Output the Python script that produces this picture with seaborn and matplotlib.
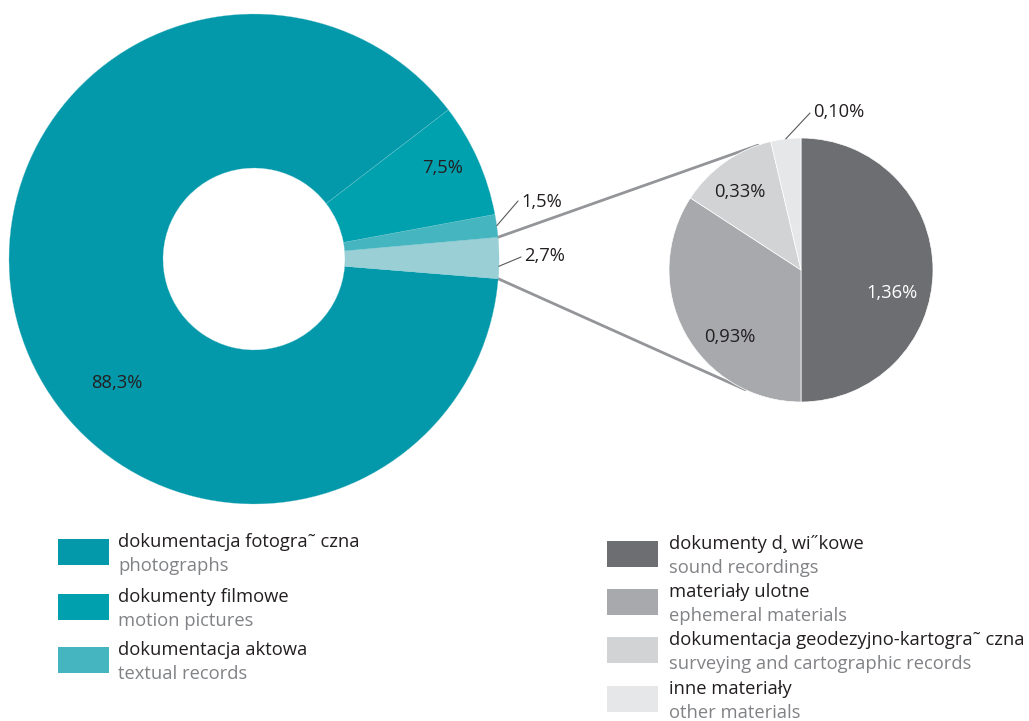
import numpy as np
import seaborn as sns
import matplotlib.pyplot as plt

# donut (main collection), order counter-clockwise from the 88,3% slice
main_labels = ['dokumentacja fotogra˜ czna', 'inne', 'dokumentacja aktowa', 'dokumenty filmowe']
main_values = [88.3, 2.7, 1.5, 7.5]
main_colors = ['#0399AA', '#9ACFD6', '#45B5BF', '#00A1AE']

# breakdown of the 2,7% slice, clockwise from the top
sub_values = [1.36, 0.93, 0.33, 0.10]
sub_text = ['1,36%', '0,93%', '0,33%', '0,10%']
sub_colors = ['#6D6E71', '#A7A9AC', '#D1D3D4', '#E6E7E8']

left_legend = [('dokumentacja fotogra˜ czna', 'photographs', '#0399AA'),
               ('dokumenty filmowe', 'motion pictures', '#00A0AE'),
               ('dokumentacja aktowa', 'textual records', '#45B5BF')]
right_legend = [('dokumenty d¸ wi˝kowe', 'sound recordings', '#6D6E71'),
                ('materiały ulotne', 'ephemeral materials', '#A7A9AC'),
                ('dokumentacja geodezyjno-kartogra˜ czna', 'surveying and cartographic records', '#D1D3D4'),
                ('inne materiały', 'other materials', '#E6E7E8')]

sns.set_theme(style='white')
plt.rcParams['font.family'] = ['Open Sans', 'DejaVu Sans']

W, H = 1029, 721
def Y(y):  # pixel row -> data y
    return H - y

fig = plt.figure(figsize=(W / 100, H / 100), dpi=100)
ax = fig.add_axes([0, 0, 1, 1])

c1, r1 = (254, Y(259)), 245
c2, r2 = (801, Y(270)), 132

wedges1, _ = ax.pie(main_values, colors=main_colors, startangle=37.5, counterclock=True,
                    center=c1, radius=r1,
                    wedgeprops=dict(width=154, edgecolor='#7FCAD3', linewidth=0.2))
wedges2, _ = ax.pie(sub_values, colors=sub_colors, startangle=90, counterclock=False,
                    center=c2, radius=r2,
                    wedgeprops=dict(edgecolor='white', linewidth=0.5))

def edge(c, r, ang):
    a = np.deg2rad(ang)
    return c[0] + r * np.cos(a), c[1] + r * np.sin(a)

# connector lines from the 2,7% slice to the breakdown pie
w = wedges1[1]
p_top = edge(c1, r1, w.theta2)
p_bot = edge(c1, r1, w.theta1)
q_top = edge(c2, r2, 109)
q_bot = edge(c2, r2, 245)
ax.plot([p_top[0], q_top[0]], [p_top[1], q_top[1]], color='#939598', lw=2, zorder=0)
ax.plot([p_bot[0], q_bot[0]], [p_bot[1], q_bot[1]], color='#939598', lw=2, zorder=0)

txt = '#231F20'
fs = 13.2
# labels inside slices
ax.text(117, Y(383), '88,3%', fontsize=fs, color=txt, ha='center', va='center')
ax.text(443, Y(168), '7,5%', fontsize=fs, color=txt, ha='center', va='center')
ax.text(892, Y(293), sub_text[0], fontsize=fs, color='white', ha='center', va='center')
ax.text(730, Y(337), sub_text[1], fontsize=fs, color=txt, ha='center', va='center')
ax.text(740, Y(192), sub_text[2], fontsize=fs, color=txt, ha='center', va='center')

# outside labels with leader lines
w = wedges1[2]
p = edge(c1, r1, (w.theta1 + w.theta2) / 2)
ax.plot([p[0], 518], [p[1], Y(201)], color='#58595B', lw=0.8)
ax.text(521, Y(202), '1,5%', fontsize=fs, color=txt, ha='left', va='center')
w = wedges1[1]
p = edge(c1, r1, w.theta1 + 0.3 * (w.theta2 - w.theta1))
ax.plot([p[0], 521], [p[1], Y(257)], color='#58595B', lw=0.8)
ax.text(524, Y(256), '2,7%', fontsize=fs, color=txt, ha='left', va='center')
w = wedges2[3]
p = edge(c2, r2, (w.theta1 + w.theta2) / 2)
ax.plot([p[0], 810], [p[1], Y(113)], color='#58595B', lw=0.8)
ax.text(813, Y(112), sub_text[3], fontsize=fs, color=txt, ha='left', va='center')

# legends
def legend(x, rows_y, items, text_dx=60, gap=24):
    for y0, (main, sub, col) in zip(rows_y, items):
        ax.add_patch(plt.Rectangle((x, Y(y0 + 26)), 51, 26, color=col, lw=0))
        ax.text(x + text_dx, Y(y0 + 3), main, fontsize=fs, color=txt, ha='left', va='center')
        ax.text(x + text_dx, Y(y0 + 3 + gap), sub, fontsize=fs, color='#808285', ha='left', va='center')

legend(58, [539, 594, 647], left_legend, text_dx=60, gap=24)
legend(607, [541, 589, 637, 686], right_legend, text_dx=62, gap=24)

ax.set_xlim(0, W)
ax.set_ylim(0, H)
ax.set_aspect('equal')
ax.axis('off')

plt.savefig('out.png', dpi=100)
